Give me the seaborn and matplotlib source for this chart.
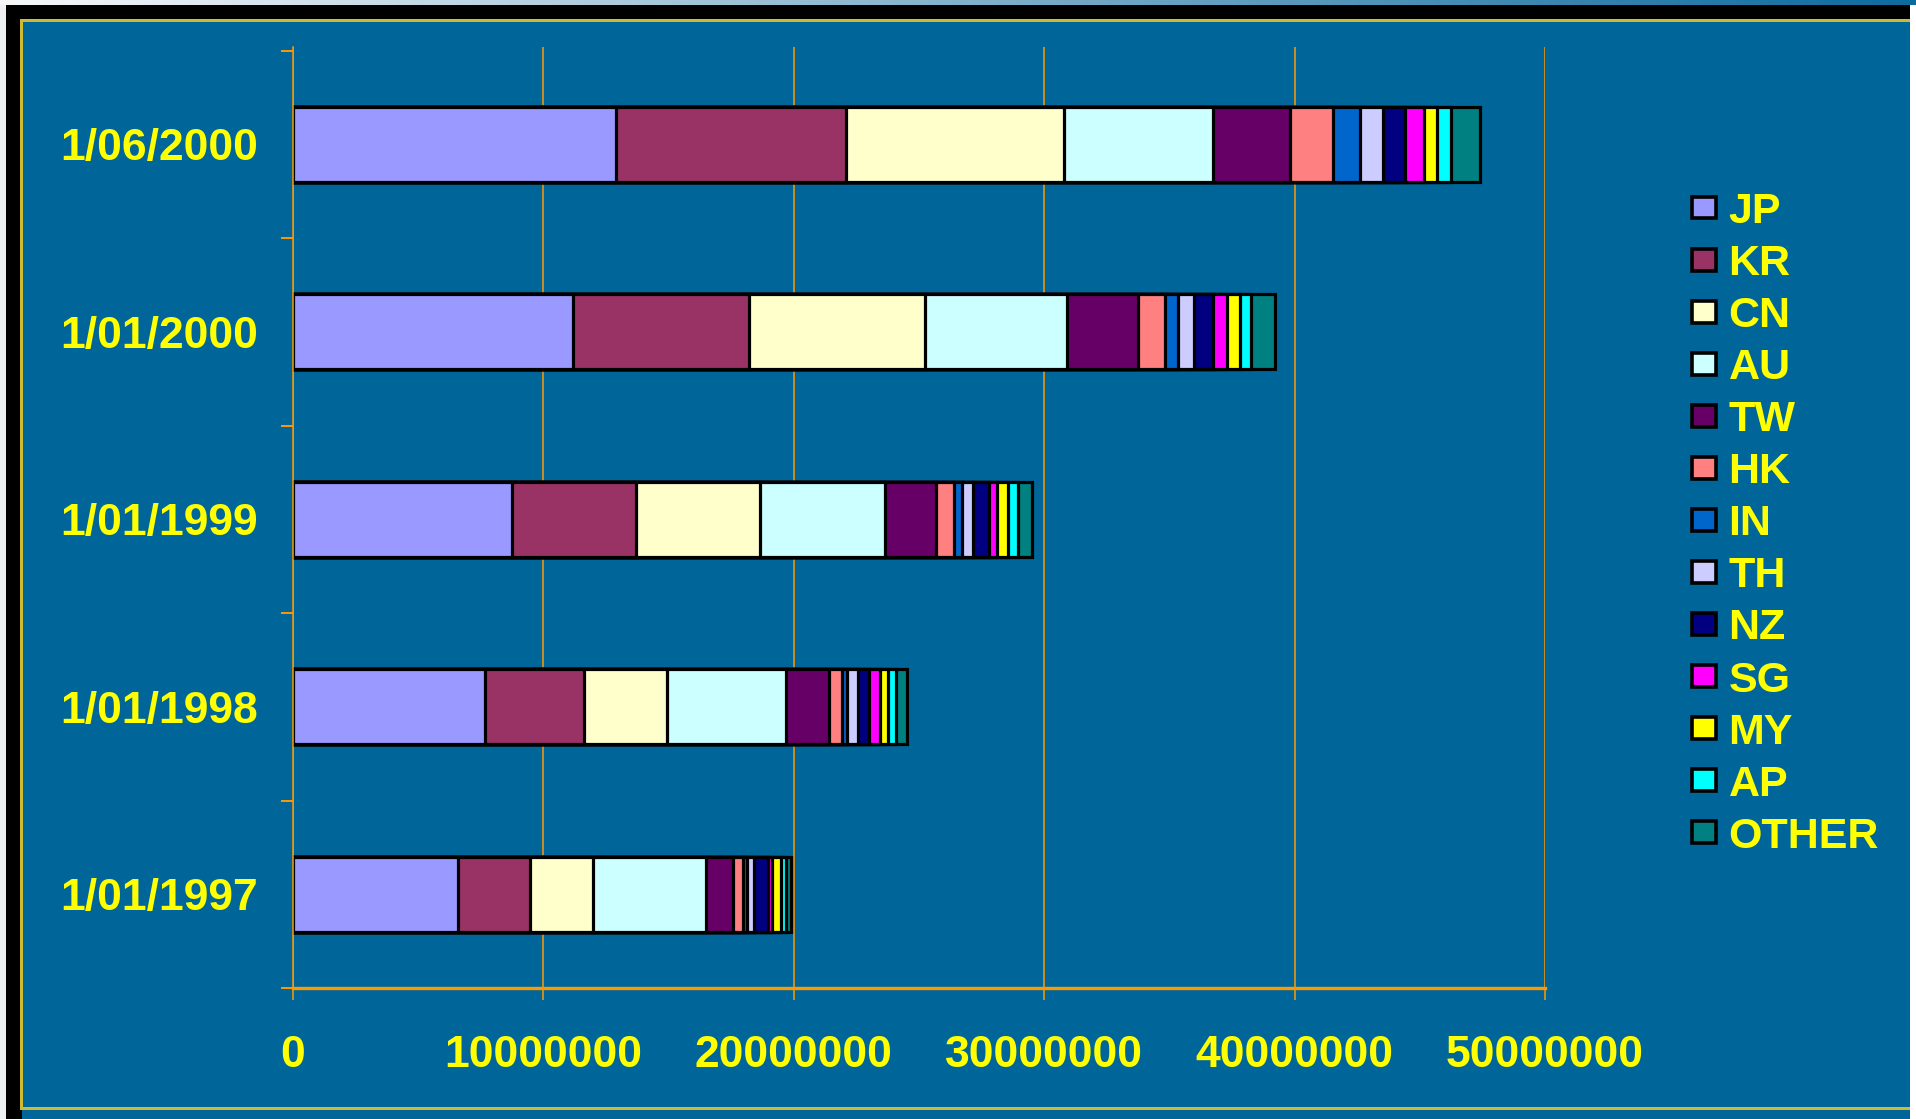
import numpy as np
import pandas as pd
import matplotlib
matplotlib.use("Agg")
import matplotlib.pyplot as plt
from matplotlib.patches import Rectangle, Patch
import seaborn as sns

# Snapshot dates (top to bottom)
dates = ["1/06/2000", "1/01/2000", "1/01/1999", "1/01/1998", "1/01/1997"]

# Allocations per registry / economy, in millions of addresses, per date
JP = [12.90, 11.18, 8.75, 7.67, 6.60]
KR = [9.17, 7.03, 4.93, 3.95, 2.88]
CN = [8.73, 7.03, 4.97, 3.32, 2.49]
AU = [5.94, 5.66, 4.98, 4.74, 4.53]
TW = [3.08, 2.85, 2.05, 1.72, 1.07]
HK = [1.71, 1.07, 0.72, 0.52, 0.40]
IN = [1.08, 0.52, 0.32, 0.20, 0.16]
TH = [0.92, 0.64, 0.44, 0.44, 0.28]
NZ = [0.88, 0.76, 0.64, 0.44, 0.56]
SG = [0.76, 0.56, 0.31, 0.44, 0.16]
MY = [0.52, 0.52, 0.44, 0.32, 0.36]
AP = [0.56, 0.44, 0.40, 0.32, 0.20]
OTHER = [1.15, 0.96, 0.56, 0.44, 0.20]

series_names = ["JP", "KR", "CN", "AU", "TW", "HK", "IN", "TH", "NZ", "SG", "MY", "AP", "OTHER"]
series_values = [JP, KR, CN, AU, TW, HK, IN, TH, NZ, SG, MY, AP, OTHER]
colors = ["#9999FF", "#993366", "#FFFFCC", "#CCFFFF", "#660066", "#FF8080", "#0066CC",
          "#CCCCFF", "#000080", "#FF00FF", "#FFFF00", "#00FFFF", "#008080"]

x_ticks = [0, 10000000, 20000000, 30000000, 40000000, 50000000]

PANEL = "#006699"
ORANGE = "#FF9900"
GOLD = "#CCBB33"
YELLOW = "#FFFF00"
FS = 32

df = pd.DataFrame({n: np.array(v) * 1e6 for n, v in zip(series_names, series_values)})
df.insert(0, "date", dates)
cum = df[series_names].cumsum(axis=1)

plt.rcParams['font.family'] = ['Liberation Sans', 'DejaVu Sans']
plt.rcParams['font.weight'] = 'bold'

W, H = 1916, 1119
fig = plt.figure(figsize=(W / 100, H / 100), dpi=100, facecolor="white")


def px_rect(x0, y0, x1, y1, color, z):
    """Rectangle given in image pixel coordinates (origin top-left)."""
    fig.add_artist(Rectangle((x0 / W, 1 - y1 / H), (x1 - x0) / W, (y1 - y0) / H,
                             transform=fig.transFigure, facecolor=color,
                             edgecolor="none", zorder=z))


# Slide frame: light left strip, black band, gold rule, blue panel
px_rect(0, 0, 6, H, "#EEF0F4", -5)
px_rect(6, 5, 1910, H, "black", -4)
px_rect(20, 19, 1910, 1110, GOLD, -3)
px_rect(23, 22, 1910, 1107, PANEL, -2)
px_rect(22, 1110, 1910, H, PANEL, -2)

# Gradient strip along the top edge
gax = fig.add_axes([0, 1 - 5 / H, 1, 5 / H])
grad = np.linspace(0, 1, 256)
c0 = np.array([0.97, 0.97, 0.98])
c1 = np.array([0.05, 0.42, 0.62])
img = (c0[None, :] * (1 - grad[:, None]) + c1[None, :] * grad[:, None])[None, :, :]
gax.imshow(img, aspect="auto", extent=[0, 1, 0, 1])
gax.set_axis_off()

ax = fig.add_axes([293 / W, 1 - 988 / H, (1545 - 293) / W, (988 - 47) / H])
ax.set_facecolor("none")
ax.set_zorder(1)

# Stacked bars: draw cumulative totals from the last series backwards
for name, col in reversed(list(zip(series_names, colors))):
    sns.barplot(x=cum[name].values, y=df["date"].values, order=dates, orient="h",
                color=col, saturation=1, width=0.4, edgecolor="black",
                linewidth=2.3, errorbar=None, ax=ax)

ax.set_xlim(0, 50000000)
ax.set_ylim(4.48, -0.52)
ax.set_xlabel("")
ax.set_ylabel("")

ax.set_xticks(x_ticks)
ax.set_xticklabels([str(t) for t in x_ticks])
ax.set_yticks(range(len(dates)))
ax.set_yticklabels(dates)
ax.set_yticks(np.arange(-0.5, len(dates), 1.0), minor=True)

ax.tick_params(axis="x", which="major", length=8.6, width=1.1, color=ORANGE,
               labelcolor=YELLOW, labelsize=FS, pad=25)
ax.tick_params(axis="y", which="major", length=0, labelcolor=YELLOW,
               labelsize=FS, pad=25)
ax.tick_params(axis="y", which="minor", length=8.6, width=1.4, color=ORANGE)
for lbl in ax.get_xticklabels() + ax.get_yticklabels():
    lbl.set_fontweight("bold")

ax.grid(axis="x", color=ORANGE, linewidth=1.1)
ax.grid(axis="y", visible=False)
ax.set_axisbelow(True)

for side in ("top", "right"):
    ax.spines[side].set_visible(False)
ax.spines["left"].set_color(ORANGE)
ax.spines["left"].set_linewidth(1.1)
ax.spines["bottom"].set_color(ORANGE)
ax.spines["bottom"].set_linewidth(2.4)

handles = [Patch(facecolor=c, edgecolor="black", linewidth=2.6) for c in colors]
leg = fig.legend(handles, series_names, loc="upper left",
                 bbox_to_anchor=(1692 / W, 1 - 192 / H), frameon=False,
                 handlelength=0.55, handleheight=0.4,
                 handletextpad=0.3, labelspacing=0.28, borderpad=0,
                 borderaxespad=0, prop={"weight": "bold", "size": 31})
leg.set_zorder(2)
for t in leg.get_texts():
    t.set_color(YELLOW)

fig.savefig("out.png", dpi=100, facecolor=fig.get_facecolor())
